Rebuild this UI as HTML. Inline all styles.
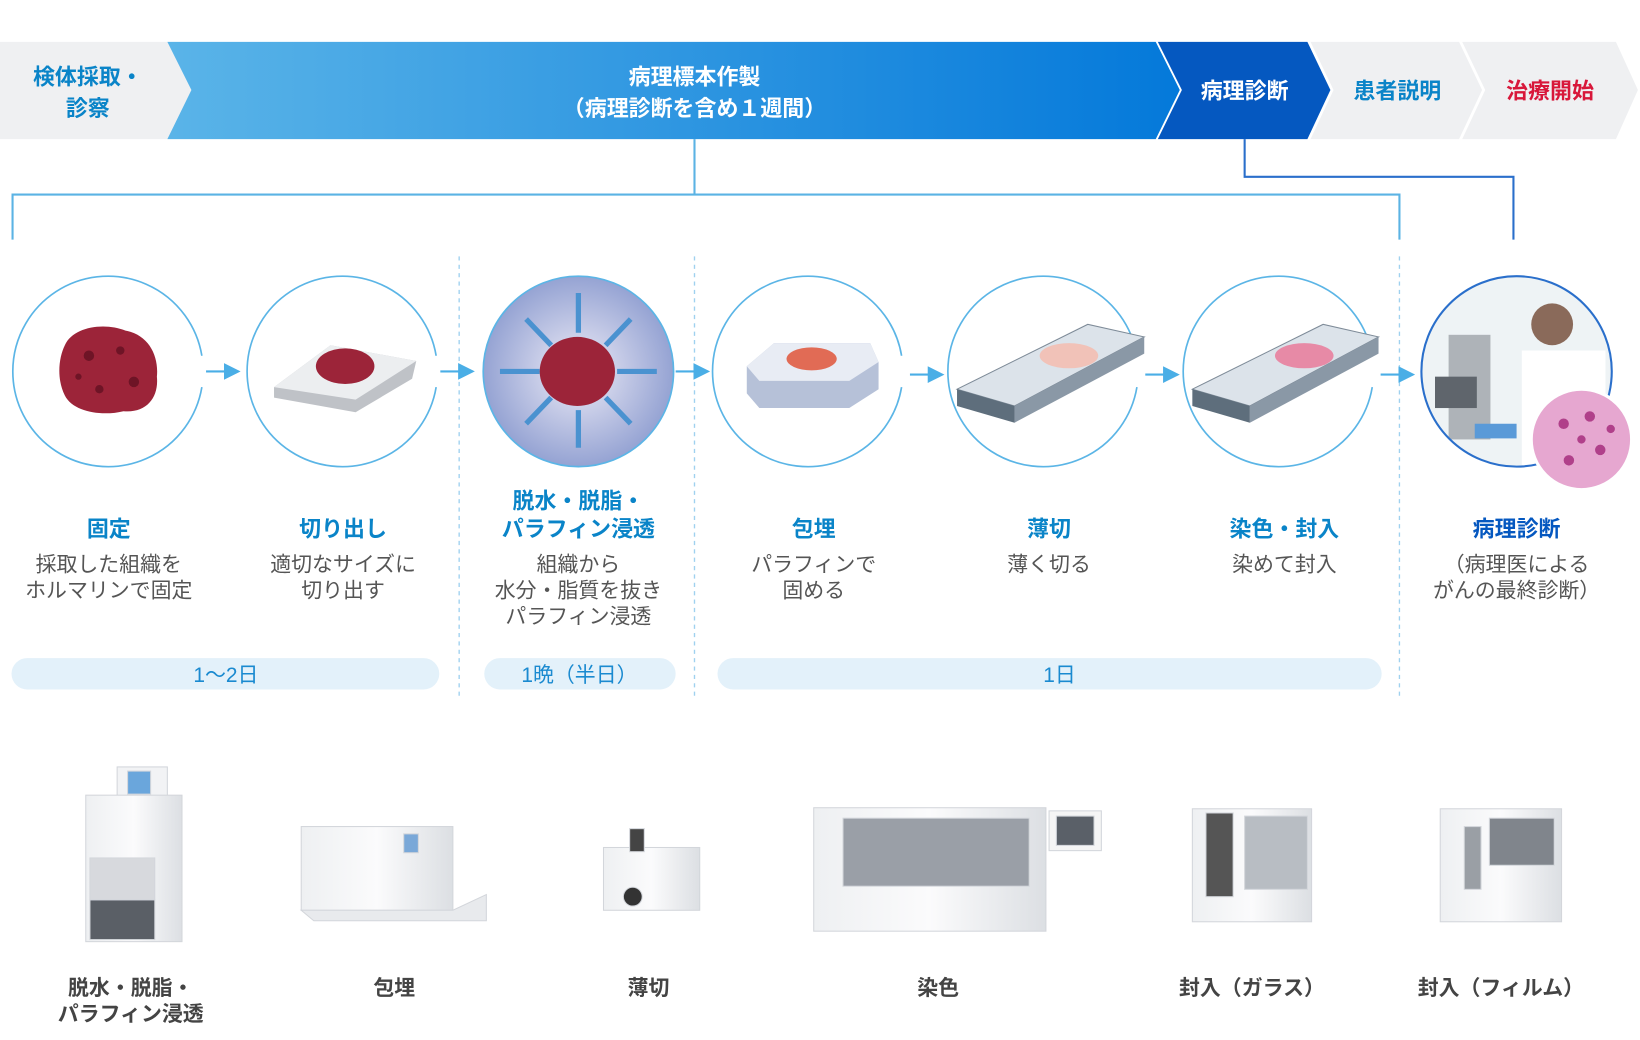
<!DOCTYPE html>
<html><head><meta charset="utf-8"><style>
html,body{margin:0;padding:0;background:#fff;overflow:hidden}
#w{width:1568px;height:994px;transform:scale(1.04592,1.04628);transform-origin:0 0;position:relative}
svg{position:absolute;left:0;top:0}
text{font-family:"Liberation Sans","Noto Sans CJK JP",sans-serif}
</style></head><body><div id="w">
<svg width="1568" height="994" viewBox="0 0 1568 994" xmlns="http://www.w3.org/2000/svg">
<defs>
<linearGradient id="bg" x1="0" x2="1"><stop offset="0" stop-color="#5ab4e8"/><stop offset="1" stop-color="#0479da"/></linearGradient>
<radialGradient id="c3"><stop offset="0.3" stop-color="#d3d6ec"/><stop offset="1" stop-color="#95a3d3"/></radialGradient>
<linearGradient id="mach" x1="0" x2="1"><stop offset="0" stop-color="#eef0f2"/><stop offset="0.5" stop-color="#fbfbfc"/><stop offset="1" stop-color="#dcdfe3"/></linearGradient>
<marker id="ar" markerWidth="8" markerHeight="8" refX="7" refY="4" orient="auto"><path d="M0,0L8,4L0,8z" fill="#4aaee6"/></marker>
<clipPath id="cp7"><circle cx="1450" cy="355" r="91"/></clipPath>
</defs>
<polygon points="0,40 160,40 183,86 160,133 0,133" fill="#eff0f2"/>
<polygon points="160,40 1105,40 1128,86 1105,133 160,133 183,86" fill="url(#bg)"/>
<polygon points="1107,40 1250,40 1272,86 1250,133 1107,133 1130,86" fill="#0558c0"/>
<polygon points="1253,40 1395,40 1417,86 1395,133 1253,133 1275,86" fill="#eff0f2"/>
<polygon points="1398,40 1545,40 1566,86 1545,133 1398,133 1420,86" fill="#eff0f2"/>
<g font-weight="bold" font-size="21" text-anchor="middle">
<text x="84" y="81" fill="#0a84c8">検体採取・</text><text x="84" y="111" fill="#0a84c8">診察</text>
<text x="664" y="81" fill="#fff">病理標本作製</text><text x="664" y="111" fill="#fff">（病理診断を含め１週間）</text>
<text x="1190" y="94" fill="#fff">病理診断</text>
<text x="1336" y="94" fill="#0a84c8">患者説明</text>
<text x="1482" y="94" fill="#d8173a">治療開始</text>
</g>
<path d="M664,133V186M12,229V186H1338V229" stroke="#5bb3e4" stroke-width="2" fill="none"/>
<path d="M1190,133V169H1447V229" stroke="#2a6fcb" stroke-width="2" fill="none"/>
<g stroke="#9fd1ef" stroke-width="1.3" stroke-dasharray="4,4"><path d="M439,245V665M664,245V665M1338,245V665"/></g>
<g fill="none" stroke="#5bb5e6" stroke-width="1.6">
<path d="M193,340A91,91 0 1 0 193,370"/>
<path d="M417,340A91,91 0 1 0 417,370"/>
<path d="M862,340A91,91 0 1 0 862,370"/>
<path d="M1087,340A91,91 0 1 0 1087,370"/>
<path d="M1312,340A91,91 0 1 0 1312,370"/>
</g>
<circle cx="553" cy="355" r="91" fill="url(#c3)" stroke="#5bb5e6" stroke-width="1.6"/>
<g stroke="#4aaee6" stroke-width="2" marker-end="url(#ar)">
<path d="M197,355H228"/><path d="M421,355H452"/><path d="M646,355H677"/><path d="M870,358H901"/><path d="M1095,358H1126"/><path d="M1320,358H1351"/>
</g>
<path d="M62,330C70,312 100,308 120,316C142,320 152,340 150,360C152,380 140,395 118,393C98,398 70,394 62,378C54,362 56,342 62,330Z" fill="#9c2439"/>
<g fill="#6e1426"><circle cx="85" cy="340" r="5"/><circle cx="115" cy="335" r="4"/><circle cx="128" cy="365" r="5"/><circle cx="95" cy="372" r="4"/><circle cx="75" cy="360" r="3"/></g>
<polygon points="262,370 316,330 398,345 394,362 340,394 262,380" fill="#bfc2c7"/>
<polygon points="262,370 316,330 398,345 340,382" fill="#eceef0"/>
<ellipse cx="330" cy="350" rx="28" ry="17" fill="#9c2439"/>
<g stroke="#4a92d0" stroke-width="5" fill="none"><path d="M553,318V280M553,392V428M516,355H478M590,355H628M527,330L503,305M579,330L603,305M527,380L503,405M579,380L603,405"/></g>
<ellipse cx="552" cy="355" rx="36" ry="33" fill="#9c2439"/>
<path d="M714,350L740,328H832L840,346V372L812,390H726L714,376Z" fill="#b6c1d8"/>
<path d="M714,350L740,328H832L840,346L812,364H726Z" fill="#e8ecf4"/>
<ellipse cx="776" cy="343" rx="24" ry="11" fill="#e16b55"/>
<g><polygon points="915,372 1040,310 1094,322 970,388" fill="#dce3ea" stroke="#7e8b98"/><polygon points="915,372 970,388 970,404 915,388" fill="#5e6e7c"/><polygon points="970,388 1094,322 1094,338 970,404" fill="#8a98a6"/><ellipse cx="1022" cy="340" rx="28" ry="12" fill="#f1c2b8"/></g>
<g><polygon points="1140,372 1265,310 1318,322 1195,388" fill="#dce3ea" stroke="#7e8b98"/><polygon points="1140,372 1195,388 1195,404 1140,388" fill="#5e6e7c"/><polygon points="1195,388 1318,322 1318,338 1195,404" fill="#8a98a6"/><ellipse cx="1247" cy="340" rx="28" ry="12" fill="#e78aa6"/></g>
<g clip-path="url(#cp7)"><rect x="1359" y="264" width="182" height="182" fill="#eef3f5"/><rect x="1385" y="320" width="40" height="100" fill="#aeb3b8"/><rect x="1372" y="360" width="40" height="30" fill="#5f656c"/><circle cx="1484" cy="310" r="20" fill="#8a6a5a"/><rect x="1455" y="335" width="80" height="110" fill="#fff"/><rect x="1410" y="405" width="40" height="14" fill="#5a9ad8"/></g>
<circle cx="1450" cy="355" r="91" fill="none" stroke="#2a6fcb" stroke-width="2"/>
<circle cx="1512" cy="420" r="48" fill="#e6a7d0" stroke="#fff" stroke-width="3"/>
<g fill="#b0408a"><circle cx="1495" cy="405" r="5"/><circle cx="1520" cy="398" r="5"/><circle cx="1530" cy="430" r="5"/><circle cx="1500" cy="440" r="5"/><circle cx="1540" cy="410" r="4"/><circle cx="1512" cy="420" r="4"/></g>
<g font-weight="bold" font-size="21" text-anchor="middle" fill="#0a84c8">
<text x="104" y="513">固定</text><text x="328" y="513">切り出し</text><text x="553" y="486">脱水・脱脂・</text><text x="553" y="513">パラフィン浸透</text><text x="778" y="513">包埋</text><text x="1003" y="513">薄切</text><text x="1228" y="513">染色・封入</text><text x="1450" y="513" fill="#0558c0">病理診断</text>
</g>
<g font-size="20" text-anchor="middle" fill="#555">
<text x="104" y="546">採取した組織を</text><text x="104" y="571">ホルマリンで固定</text>
<text x="328" y="546">適切なサイズに</text><text x="328" y="571">切り出す</text>
<text x="553" y="546">組織から</text><text x="553" y="571">水分・脂質を抜き</text><text x="553" y="596">パラフィン浸透</text>
<text x="778" y="546">パラフィンで</text><text x="778" y="571">固める</text>
<text x="1003" y="546">薄く切る</text><text x="1228" y="546">染めて封入</text>
<text x="1450" y="546">（病理医による</text><text x="1450" y="571">がんの最終診断）</text>
</g>
<g fill="#e3f1fa"><rect x="11" y="629" width="409" height="30" rx="15"/><rect x="463" y="629" width="183" height="30" rx="15"/><rect x="686" y="629" width="635" height="30" rx="15"/></g>
<g font-size="20" text-anchor="middle" fill="#1a8ad0"><text x="216" y="652">1〜2日</text><text x="554" y="652">1晩（半日）</text><text x="1013" y="652">1日</text></g>
<g stroke="#d3d6db" stroke-width="1">
<rect x="112" y="733" width="48" height="40" fill="#f2f3f5"/><rect x="122" y="737" width="22" height="22" fill="#6aa6dc"/>
<rect x="82" y="760" width="92" height="140" fill="url(#mach)"/><rect x="86" y="860" width="62" height="38" fill="#5a5f66"/><rect x="86" y="820" width="62" height="40" fill="#d7d9dd"/>
<rect x="288" y="790" width="145" height="80" fill="url(#mach)"/><polygon points="288,870 433,870 465,855 465,880 300,880" fill="#e8eaed"/><rect x="386" y="797" width="14" height="18" fill="#7aa8d8"/>
<rect x="577" y="810" width="92" height="60" fill="url(#mach)"/><circle cx="605" cy="857" r="9" fill="#333"/><rect x="602" y="792" width="14" height="22" fill="#444"/>
<rect x="778" y="772" width="222" height="118" fill="url(#mach)"/><rect x="806" y="782" width="178" height="65" fill="#9a9fa7"/><rect x="1003" y="775" width="50" height="38" fill="#f5f5f5"/><rect x="1010" y="780" width="36" height="28" fill="#5a6068"/>
<rect x="1140" y="773" width="114" height="108" fill="url(#mach)"/><rect x="1153" y="777" width="26" height="80" fill="#555"/><rect x="1190" y="780" width="60" height="70" fill="#b8bdc3"/>
<rect x="1377" y="773" width="116" height="108" fill="url(#mach)"/><rect x="1424" y="782" width="62" height="45" fill="#80858c"/><rect x="1400" y="790" width="16" height="60" fill="#9a9fa5"/>
</g>
<g font-size="20" text-anchor="middle" fill="#444" font-weight="bold">
<text x="125" y="951">脱水・脱脂・</text><text x="125" y="976">パラフィン浸透</text>
<text x="377" y="951">包埋</text><text x="620" y="951">薄切</text><text x="897" y="951">染色</text><text x="1197" y="951">封入（ガラス）</text><text x="1435" y="951">封入（フィルム）</text>
</g>
</svg></div></body></html>
